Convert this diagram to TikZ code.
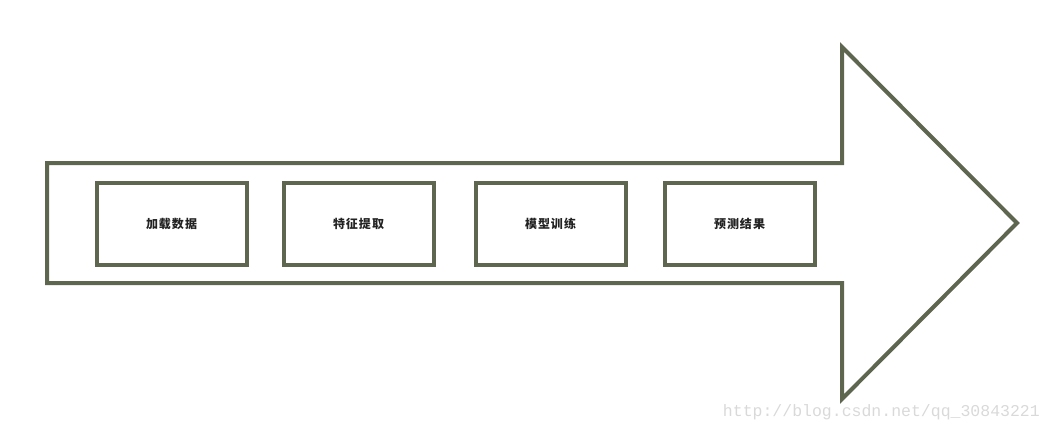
\documentclass[tikz,border=0pt]{standalone}
\usepackage{fontspec}
\newfontfamily\cjk{Noto Sans CJK SC}
\newfontfamily\wmfont{Liberation Mono}
\definecolor{olive}{HTML}{5F6650}
\definecolor{wmgray}{HTML}{D9D9D9}
\definecolor{inkgray}{HTML}{222222}
\tikzset{
    stage/.style={draw=olive,line width=4pt,minimum width=150pt,minimum height=82pt,inner sep=0pt,text=inkgray,font=\cjk\bfseries\fontsize{12}{12}\selectfont}
}

\begin{document}
\begin{tikzpicture}[x=1pt,y=1pt]
    \useasboundingbox(0,0)rectangle(1050,432);
    \draw[olive,line width=4pt,line join=miter](47,269)--(842,269)--(842,385)--(1017,209)--(842,33)--(842,149)--(47,149)--cycle;
    \node[stage](load)at(171.5,208.5){加\kern1pt 载\kern1pt 数\kern1pt 据};
    \node[stage](feat)at(358.5,208.5){特\kern1pt 征\kern1pt 提\kern1pt 取};
    \node[stage](train)at(550.5,208.5){模\kern1pt 型\kern1pt 训\kern1pt 练};
    \node[stage](pred)at(739.5,208.5){预\kern1pt 测\kern1pt 结\kern1pt 果};
    \node[wmgray,font=\wmfont\fontsize{16.5}{16.5}\selectfont,anchor=east,inner sep=0pt](mark)at(1040,20){http://blog.csdn.net/qq\_30843221};
\end{tikzpicture}
\end{document}
